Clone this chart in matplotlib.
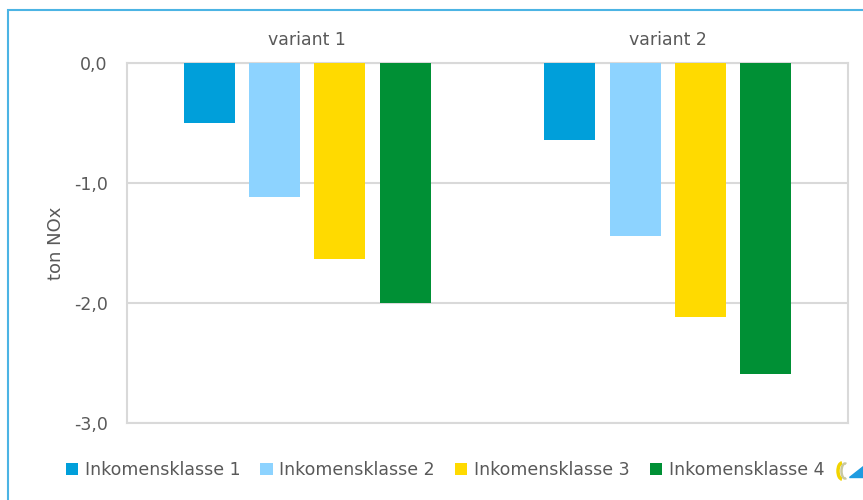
import numpy as np
import matplotlib.pyplot as plt
from matplotlib.patches import Rectangle, Arc, Polygon

# data
varianten = ['variant 1', 'variant 2']
klassen = ['Inkomensklasse 1', 'Inkomensklasse 2', 'Inkomensklasse 3', 'Inkomensklasse 4']
klasse1 = [-0.50, -0.64]
klasse2 = [-1.12, -1.44]
klasse3 = [-1.63, -2.12]
klasse4 = [-2.00, -2.59]
kleuren = ['#009FDA', '#8DD3FF', '#FFDA00', '#009035']
yticks = [0.0, -1.0, -2.0, -3.0]

grijs = '#595959'
lijn = '#d9d9d9'

fig = plt.figure(figsize=(8.63, 5.0), dpi=100)
ax = fig.add_axes([127/863, 1 - 423/500, 721/863, 360/500])

x = np.arange(len(varianten))
breedte = 0.142
stap = 0.181
for i, (waarden, naam) in enumerate(zip([klasse1, klasse2, klasse3, klasse4], klassen)):
    ax.bar(x + (i - 1.5) * stap, waarden, breedte, color=kleuren[i], label=naam, zorder=3)

ax.set_xlim(-0.5, 1.5)
ax.set_ylim(-3.0, 0.0)
ax.set_yticks(yticks)
ax.set_yticklabels([f'{v:.1f}'.replace('.', ',') for v in yticks], fontsize=12.5, color=grijs)
ax.set_xticks(x)
ax.set_xticklabels(varianten, fontsize=12.5, color=grijs)
ax.xaxis.tick_top()
ax.tick_params(axis='both', length=0)
ax.tick_params(axis='y', pad=14)
ax.tick_params(axis='x', pad=10)
ax.yaxis.grid(True, color=lijn, linewidth=1.5, zorder=0)
for s in ax.spines.values():
    s.set_color(lijn)
    s.set_linewidth(1.5)
ax.set_ylabel('ton NOx', fontsize=13, color=grijs, labelpad=6)

ax.legend(loc='center', bbox_to_anchor=(445/863, 1 - 470/500), bbox_transform=fig.transFigure,
          ncol=4, frameon=False, fontsize=12.5, labelcolor=grijs,
          handlelength=0.7, handleheight=0.7, handletextpad=0.4, columnspacing=1.15)

# lichtblauwe rand rond de figuur
fig.patches.append(Rectangle((8/863, -0.05), 1.0, 1 - 10/500 + 0.05, transform=fig.transFigure,
                             fill=False, edgecolor='#4CB4E4', linewidth=1.5))

# klein logo rechtsonder (afgesneden)
lax = fig.add_axes([834/863, 1 - 481/500, 29/863, 20/500])
lax.set_xlim(0, 29)
lax.set_ylim(0, 20)
lax.axis('off')
lax.add_patch(Arc((8, 10), 8, 16, theta1=90, theta2=270, color='#F2D400', lw=2.5))
lax.add_patch(Arc((11, 10), 7, 15, theta1=80, theta2=280, color='#C8C8A0', lw=1.8))
lax.add_patch(Polygon([(15, 4), (29, 4), (29, 15)], closed=True, color='#1E9BE0'))

fig.savefig('out.png', dpi=100)
